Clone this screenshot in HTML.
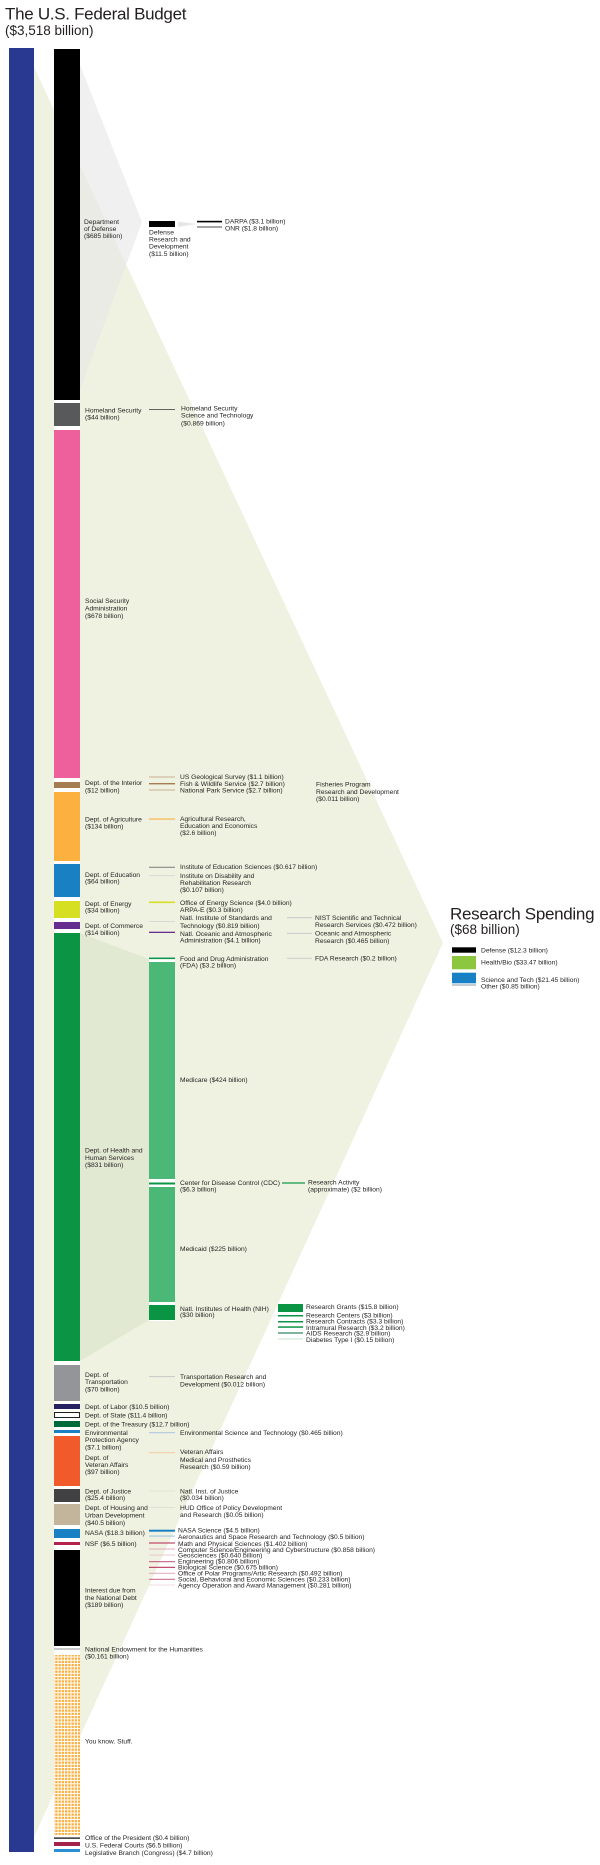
<!DOCTYPE html>
<html><head><meta charset="utf-8"><style>
html,body{margin:0;padding:0;background:#fff;}
svg{display:block;}
text{font-family:"Liberation Sans",Arial,sans-serif;fill:#231f20;font-size:6.7px;}
.t{font-size:17px;letter-spacing:-0.3px;}
.s{font-size:13.5px;}
</style></head><body>
<svg width="600" height="1865" viewBox="0 0 600 1865" xmlns="http://www.w3.org/2000/svg">
<defs>
<pattern id="dots" width="3.25" height="3.25" patternUnits="userSpaceOnUse">
<rect width="3.25" height="3.25" fill="#fff"/><rect width="2.3" height="2.3" fill="#fbb040"/>
</pattern>
</defs>
<rect width="600" height="1865" fill="#fff"/>
<!-- big fan -->
<polygon points="34,67 443,943 34,1837" fill="#eff2e0"/>
<!-- DoD fan -->
<polygon points="80,65 142,222 80,390" fill="#e6e7e8" opacity="0.62"/>
<polygon points="178,221.5 178,227 197,224" fill="#e6e7e8"/>
<!-- HHS fan -->
<polygon points="80,933 149,959 149,1320 80,1361" fill="#e2e9d3"/>

<!-- Titles -->
<text x="5" y="19.5" class="t">The U.S. Federal Budget</text>
<text x="5" y="35" class="s">($3,518 billion)</text>

<!-- blue total bar -->
<rect x="9" y="48" width="25" height="1804" fill="#293991"/>
<!-- column background -->
<rect x="54" y="49" width="26" height="1803" fill="#fff"/>
<rect x="149" y="957" width="26" height="364" fill="#fff"/>

<!-- department bars -->
<rect x="54" y="49" width="26" height="351" fill="#000"/>
<rect x="54" y="403" width="26" height="23" fill="#58595b"/>
<rect x="54" y="430" width="26" height="348" fill="#ee609c"/>
<rect x="54" y="782" width="26" height="6" fill="#a67c52"/>
<rect x="54" y="792" width="26" height="69" fill="#fbb040"/>
<rect x="54" y="864" width="26" height="33" fill="#1a80c4"/>
<rect x="54" y="901" width="26" height="17" fill="#d7df23"/>
<rect x="54" y="922" width="26" height="7" fill="#662d91"/>
<rect x="54" y="933" width="26" height="428" fill="#0b9444"/>
<rect x="54" y="1365" width="26" height="36" fill="#939598"/>
<rect x="54" y="1404" width="26" height="5" fill="#262262"/>
<rect x="54.5" y="1412.5" width="25" height="5" fill="#fff" stroke="#231f20" stroke-width="1"/>
<rect x="54" y="1421" width="26" height="6" fill="#00693a"/>
<rect x="54" y="1430" width="26" height="3" fill="#1a80c4"/>
<rect x="54" y="1436" width="26" height="50" fill="#f15a2b"/>
<rect x="54" y="1489" width="26" height="13" fill="#414042"/>
<rect x="54" y="1504" width="26" height="21" fill="#c2b59b"/>
<rect x="54" y="1529" width="26" height="9" fill="#1a80c4"/>
<rect x="54" y="1542" width="26" height="3" fill="#b3224c"/>
<rect x="54" y="1550" width="26" height="96" fill="#000"/>
<rect x="54" y="1648.5" width="26" height="1" fill="#939598"/>
<rect x="54" y="1655" width="26" height="180" fill="url(#dots)"/>
<rect x="54" y="1837.5" width="26" height="1.2" fill="#000"/>
<rect x="54" y="1842" width="26" height="4" fill="#a3234b"/>
<rect x="54" y="1849" width="26" height="3" fill="#2a8fd5"/>

<!-- department labels -->
<text x="84" y="224">Department</text>
<text x="84" y="231">of Defense</text>
<text x="84" y="238">($685 billion)</text>
<text x="85" y="412.5">Homeland Security</text>
<text x="85" y="419.5">($44 billion)</text>
<text x="85" y="603">Social Security</text>
<text x="85" y="610.5">Administration</text>
<text x="85" y="618">($678 billion)</text>
<text x="85" y="785">Dept. of the Interior</text>
<text x="85" y="792.5">($12 billion)</text>
<text x="85" y="821.5">Dept. of Agriculture</text>
<text x="85" y="828.5">($134 billion)</text>
<text x="85" y="876.8">Dept. of Education</text>
<text x="85" y="883.3">($64 billion)</text>
<text x="85" y="905.8">Dept. of Energy</text>
<text x="85" y="912.5">($34 billion)</text>
<text x="85" y="928">Dept. of Commerce</text>
<text x="85" y="934.8">($14 billion)</text>
<text x="85" y="1152.5">Dept. of Health and</text>
<text x="85" y="1159.8">Human Services</text>
<text x="85" y="1166.8">($831 billion)</text>
<text x="85" y="1376.8">Dept. of</text>
<text x="85" y="1384">Transportation</text>
<text x="85" y="1391.5">($70 billion)</text>
<text x="85" y="1409">Dept. of Labor ($10.5 billion)</text>
<text x="85" y="1417.5">Dept. of State ($11.4 billion)</text>
<text x="85" y="1426.5">Dept. of the Treasury ($12.7 billion)</text>
<text x="85" y="1434.8">Environmental</text>
<text x="85" y="1442">Protection Agency</text>
<text x="85" y="1449.5">($7.1 billion)</text>
<text x="85" y="1459.8">Dept. of</text>
<text x="85" y="1467">Veteran Affairs</text>
<text x="85" y="1474">($97 billion)</text>
<text x="85" y="1493.5">Dept. of Justice</text>
<text x="85" y="1500">($25.4 billion)</text>
<text x="85" y="1509.8">Dept. of Housing and</text>
<text x="85" y="1517.5">Urban Development</text>
<text x="85" y="1524.8">($40.5 billion)</text>
<text x="85" y="1535">NASA ($18.3 billion)</text>
<text x="85" y="1545.8">NSF ($6.5 billion)</text>
<text x="85" y="1592.5">Interest due from</text>
<text x="85" y="1599.8">the National Debt</text>
<text x="85" y="1606.8">($189 billion)</text>
<text x="85" y="1651.5">National Endowment for the Humanities</text>
<text x="85" y="1658.5">($0.161 billion)</text>
<text x="85" y="1743.5">You know. Stuff.</text>
<text x="85" y="1840">Office of the President ($0.4 billion)</text>
<text x="85" y="1847.5">U.S. Federal Courts ($6.5 billion)</text>
<text x="85" y="1855">Legislative Branch (Congress) ($4.7 billion)</text>

<!-- Defense sub -->
<rect x="149" y="221" width="26" height="6" fill="#000"/>
<text x="149" y="234.5">Defense</text>
<text x="149" y="241.5">Research and</text>
<text x="149" y="248.5">Development</text>
<text x="149" y="256">($11.5 billion)</text>
<rect x="197" y="220.8" width="25" height="1.6" fill="#000"/>
<rect x="197" y="226.6" width="25" height="0.8" fill="#231f20"/>
<text x="225" y="223.5">DARPA ($3.1 billion)</text>
<text x="225" y="230.5">ONR ($1.8 billion)</text>

<!-- Homeland sub -->
<rect x="149" y="409" width="26" height="0.8" fill="#414042"/>
<text x="181" y="410.5">Homeland Security</text>
<text x="181" y="417.5">Science and Technology</text>
<text x="181" y="425.5">($0.869 billion)</text>

<!-- Interior sub -->
<rect x="149" y="776.5" width="26" height="1" fill="#c8b08f"/>
<rect x="149" y="783" width="26" height="1.4" fill="#a67c52"/>
<rect x="149" y="789.5" width="26" height="1" fill="#c8b08f"/>
<text x="180" y="779">US Geological Survey ($1.1 billion)</text>
<text x="180" y="786">Fish &amp; Wildlife Service ($2.7 billion)</text>
<text x="180" y="792.5">National Park Service ($2.7 billion)</text>
<text x="316" y="786.5">Fisheries Program</text>
<text x="316" y="794">Research and Development</text>
<text x="316" y="801">($0.011 billion)</text>

<!-- Agriculture sub -->
<rect x="149" y="818.5" width="26" height="1.1" fill="#fbb040"/>
<text x="180" y="820.8">Agricultural Research,</text>
<text x="180" y="828">Education and Economics</text>
<text x="180" y="835">($2.6 billion)</text>

<!-- Education sub -->
<rect x="149" y="866.8" width="26" height="0.9" fill="#6d6e71"/>
<rect x="149" y="875.3" width="26" height="0.8" fill="#d1d3d4"/>
<text x="180" y="869">Institute of Education Sciences ($0.617 billion)</text>
<text x="180" y="878">Institute on Disability and</text>
<text x="180" y="884.8">Rehabilitation Research</text>
<text x="180" y="891.8">($0.107 billion)</text>

<!-- Energy sub -->
<rect x="149" y="901.5" width="26" height="1.6" fill="#d7df23"/>
<text x="180" y="904.8">Office of Energy Science ($4.0 billion)</text>
<text x="180" y="911.8">ARPA-E ($0.3 billion)</text>

<!-- Commerce sub -->
<rect x="149" y="921.2" width="26" height="0.8" fill="#d1d3d4"/>
<rect x="149" y="931.7" width="26" height="1.3" fill="#662d91"/>
<text x="180" y="920">Natl. Institute of Standards and</text>
<text x="180" y="928">Technology ($0.819 billion)</text>
<text x="180" y="935.8">Natl. Oceanic and Atmospheric</text>
<text x="180" y="942.5">Administration ($4.1 billion)</text>
<rect x="287" y="917.2" width="25" height="1" fill="#c7c8ca"/>
<rect x="287" y="932.8" width="25" height="1" fill="#c7c8ca"/>
<text x="315" y="920">NIST Scientific and Technical</text>
<text x="315" y="927">Research Services ($0.472 billion)</text>
<text x="315" y="935.5">Oceanic and Atmospheric</text>
<text x="315" y="942.8">Research ($0.465 billion)</text>

<!-- HHS sub -->
<rect x="149" y="957.5" width="26" height="1.6" fill="#0b9444"/>
<rect x="149" y="962" width="26" height="217" fill="#4cb878"/>
<rect x="149" y="1182.5" width="26" height="2" fill="#0b9444"/>
<rect x="149" y="1187" width="26" height="115" fill="#4cb878"/>
<rect x="149" y="1305" width="26" height="15" fill="#0b9444"/>
<text x="180" y="960.8">Food and Drug Administration</text>
<text x="180" y="967.5">(FDA) ($3.2 billion)</text>
<text x="180" y="1081.8">Medicare ($424 billion)</text>
<text x="180" y="1184.8">Center for Disease Control (CDC)</text>
<text x="180" y="1191.5">($6.3 billion)</text>
<text x="180" y="1250.8">Medicaid ($225 billion)</text>
<text x="180" y="1310.8">Natl. Institutes of Health (NIH)</text>
<text x="180" y="1317">($30 billion)</text>
<rect x="287" y="957.8" width="25" height="0.9" fill="#c7c8ca"/>
<text x="315" y="960.5">FDA Research ($0.2 billion)</text>
<rect x="282" y="1182.4" width="23" height="1.2" fill="#0b9444"/>
<text x="308" y="1184.5">Research Activity</text>
<text x="308" y="1191.5">(approximate) ($2 billion)</text>
<rect x="278" y="1304" width="25" height="8" fill="#0b9444"/>
<rect x="278" y="1315" width="25" height="1.5" fill="#0b9444"/>
<rect x="278" y="1321" width="25" height="1.5" fill="#0b9444"/>
<rect x="278" y="1326.3" width="25" height="1.5" fill="#0b9444"/>
<rect x="278" y="1332.5" width="25" height="1" fill="#00693a"/>
<rect x="278" y="1338.5" width="25" height="1" fill="#c9e3cf"/>
<text x="306" y="1309">Research Grants ($15.8 billion)</text>
<text x="306" y="1317.5">Research Centers ($3 billion)</text>
<text x="306" y="1323.3">Research Contracts ($3.3 billion)</text>
<text x="306" y="1329.8">Intramural Research ($3.2 billion)</text>
<text x="306" y="1335.5">AIDS Research ($2.9 billion)</text>
<text x="306" y="1341.8">Diabetes Type I ($0.15 billion)</text>

<!-- Transportation sub -->
<rect x="149" y="1376.3" width="26" height="0.8" fill="#bcbec0"/>
<text x="180" y="1378.8">Transportation Research and</text>
<text x="180" y="1386.5">Development ($0.012 billion)</text>

<!-- EPA sub -->
<rect x="149" y="1432.2" width="26" height="1" fill="#a7c4e5"/>
<text x="180" y="1435">Environmental Science and Technology ($0.465 billion)</text>

<!-- VA sub -->
<rect x="149" y="1452.2" width="26" height="1" fill="#f8c9a5"/>
<text x="180" y="1454">Veteran Affairs</text>
<text x="180" y="1461.8">Medical and Prosthetics</text>
<text x="180" y="1469">Research ($0.59 billion)</text>

<!-- Justice sub -->
<rect x="149" y="1490.6" width="26" height="0.8" fill="#dcddd0"/>
<text x="180" y="1493.5">Natl. Inst. of Justice</text>
<text x="180" y="1500">($0.034 billion)</text>

<!-- HUD sub -->
<rect x="149" y="1507" width="26" height="0.8" fill="#dcddd0"/>
<text x="180" y="1509.8">HUD Office of Policy Development</text>
<text x="180" y="1517">and Research ($0.05 billion)</text>

<!-- NASA sub -->
<rect x="149" y="1529.7" width="26" height="2" fill="#1a80c4"/>
<rect x="149" y="1535.6" width="26" height="0.9" fill="#8bbbe4"/>
<text x="178" y="1532.5">NASA Science ($4.5 billion)</text>
<text x="178" y="1539">Aeronautics and Space Research and Technology ($0.5 billion)</text>

<!-- NSF sub -->
<rect x="149" y="1542.5" width="26" height="1" fill="#b3224c"/>
<rect x="149" y="1548.6" width="26" height="0.9" fill="#e3a1b8"/>
<rect x="149" y="1554.6" width="26" height="0.9" fill="#ebc3cf"/>
<rect x="149" y="1561.2" width="26" height="1" fill="#c0507a"/>
<rect x="149" y="1566.8" width="26" height="1" fill="#b3224c"/>
<rect x="149" y="1572.8" width="26" height="0.9" fill="#dca0b6"/>
<rect x="149" y="1578.8" width="26" height="1" fill="#c9608a"/>
<rect x="149" y="1584.6" width="26" height="0.8" fill="#efd6df"/>
<text x="178" y="1546">Math and Physical Sciences ($1.402 billion)</text>
<text x="178" y="1551.8">Computer Science/Engineering and Cyberstructure ($0.858 billion)</text>
<text x="178" y="1557.5">Geosciences ($0.640 billion)</text>
<text x="178" y="1563.5">Engineering ($0.806 billion)</text>
<text x="178" y="1569.5">Biological Science ($0.675 billion)</text>
<text x="178" y="1575.5">Office of Polar Programs/Artic Research ($0.492 billion)</text>
<text x="178" y="1581.5">Social, Behavioral and Economic Sciences ($0.233 billion)</text>
<text x="178" y="1587.5">Agency Operation and Award Management ($0.281 billion)</text>

<!-- Research Spending legend -->
<text x="450" y="919.5" class="t">Research Spending</text>
<text x="450" y="934" class="s">($68 billion)</text>
<rect x="452" y="947.3" width="24" height="5.4" fill="#000"/>
<rect x="452" y="956" width="24" height="13.3" fill="#8dc63f"/>
<rect x="452" y="972.7" width="24" height="10.6" fill="#1a80c4"/>
<rect x="452" y="984.5" width="24" height="1" fill="#8a9aa8"/>
<text x="481" y="952.5">Defense ($12.3 billion)</text>
<text x="481" y="964.5">Health/Bio ($33.47 billion)</text>
<text x="481" y="981.8">Science and Tech ($21.45 billion)</text>
<text x="481" y="988.5">Other ($0.85 billion)</text>
</svg>
</body></html>
